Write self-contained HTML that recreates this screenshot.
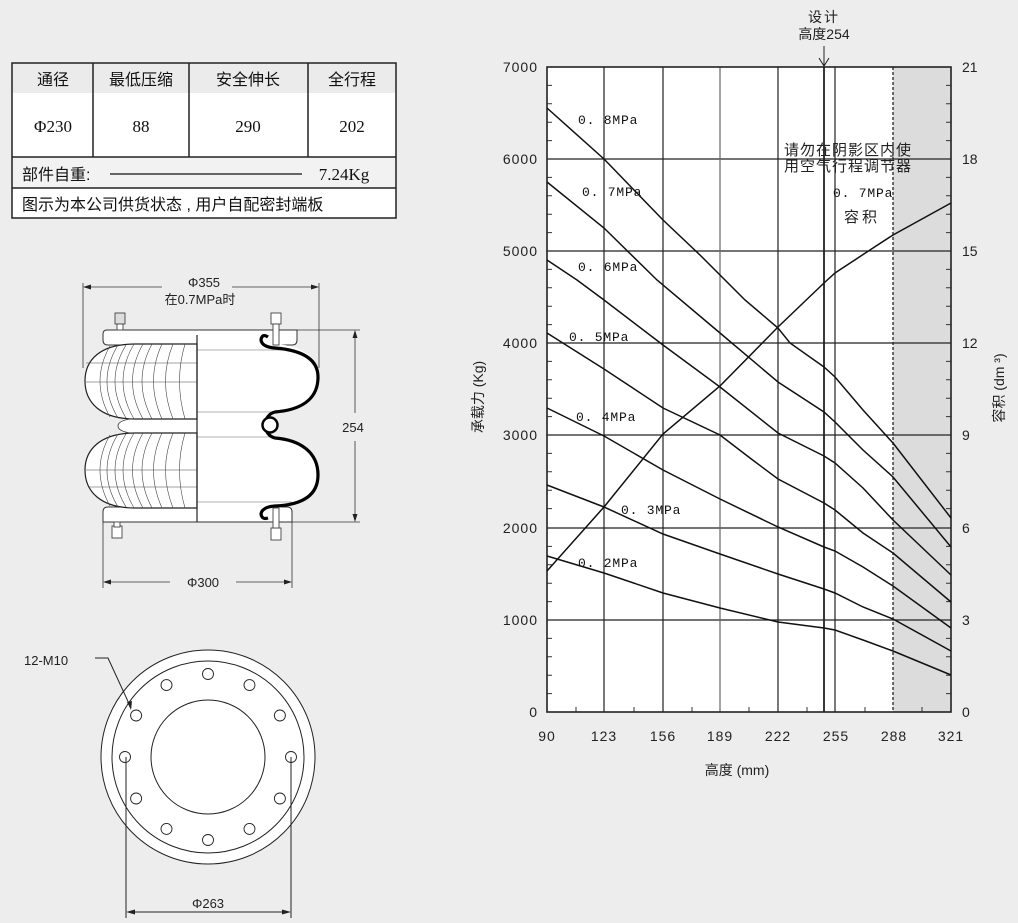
<!DOCTYPE html>
<html><head><meta charset="utf-8"><style>
html,body{margin:0;padding:0;background:#ededed;}
svg{display:block}
text{font-family:"Liberation Sans","Noto Sans CJK SC",sans-serif;}
text.m{font-family:"Liberation Mono","Noto Sans CJK SC",monospace;}
text.s{font-family:"Liberation Serif","Noto Serif CJK SC",serif;}
</style></head><body>
<svg width="1018" height="923" viewBox="0 0 1018 923" xmlns="http://www.w3.org/2000/svg">
<rect width="1018" height="923" fill="#ededed"/>
<rect x="12" y="63" width="384" height="30" fill="#ebebeb"/>
<rect x="12" y="93" width="384" height="64" fill="#fff"/>
<rect x="12" y="157" width="384" height="31" fill="#f2f2f2"/>
<rect x="12" y="188" width="384" height="30" fill="#fff"/>
<g stroke="#222" stroke-width="1.5" fill="none">
<rect x="12" y="63" width="384" height="155"/>
<line x1="12" y1="157" x2="396" y2="157"/>
<line x1="12" y1="188" x2="396" y2="188"/>
<line x1="93" y1="63" x2="93" y2="157"/>
<line x1="189" y1="63" x2="189" y2="157"/>
<line x1="308" y1="63" x2="308" y2="157"/>
</g>
<g font-size="16" fill="#111" text-anchor="middle">
<text x="53" y="85">通径</text><text x="141" y="85">最低压缩</text><text x="248" y="85">安全伸长</text><text x="352" y="85">全行程</text>
</g>
<g font-size="17" fill="#111" text-anchor="middle">
<text class="s" x="53" y="132">Φ230</text><text class="s" x="141" y="132">88</text><text class="s" x="248" y="132">290</text><text class="s" x="352" y="132">202</text>
<text class="s" x="344" y="180">7.24Kg</text>
</g>
<text x="22" y="180" font-size="16" fill="#111">部件自重:</text>
<line x1="110" y1="174" x2="302" y2="174" stroke="#111" stroke-width="1.2"/>
<text x="22" y="210" font-size="16" fill="#111">图示为本公司供货状态 , 用户自配密封端板</text>

<g stroke="#333" stroke-width="0.8" fill="none">
<line x1="83" y1="283" x2="83" y2="368"/>
<line x1="319" y1="283" x2="319" y2="368"/>
<line x1="85" y1="287" x2="162" y2="287"/><line x1="232" y1="287" x2="317" y2="287"/>
<line x1="290" y1="330" x2="360" y2="330"/><line x1="292" y1="522" x2="360" y2="522"/>
<line x1="355" y1="332" x2="355" y2="413"/><line x1="355" y1="441" x2="355" y2="520"/>
<line x1="103" y1="522" x2="103" y2="588"/><line x1="292" y1="522" x2="292" y2="588"/>
<line x1="105" y1="582" x2="170" y2="582"/><line x1="236" y1="582" x2="290" y2="582"/>
</g>
<g fill="#222">
<path d="M83,287 l8,-2.5 v5z"/><path d="M319,287 l-8,-2.5 v5z"/>
<path d="M355,330 l-2.5,8 h5z"/><path d="M355,522 l-2.5,-8 h5z"/>
<path d="M103,582 l8,-2.5 v5z"/><path d="M292,582 l-8,-2.5 v5z"/>
</g>
<text x="204" y="287" font-size="13" text-anchor="middle" fill="#222">Φ355</text>
<text x="200" y="304" font-size="13" text-anchor="middle" fill="#222">在0.7MPa时</text>
<text x="353" y="432" font-size="13" text-anchor="middle" fill="#222">254</text>
<text x="203" y="587" font-size="13" text-anchor="middle" fill="#222">Φ300</text>
<path d="M107,330 H297 V340 Q297,345 292,345 H108 Q103,345 103,340 V334 Q103,330 107,330Z" fill="#fff" stroke="#333" stroke-width="1"/>
<path d="M108,507 H287 Q292,507 292,512 V522 H103 V512 Q103,507 108,507Z" fill="#fff" stroke="#333" stroke-width="1"/>
<path d="M197,344 H270 C300,344 318,355 318,377 C318,400 300,410 275,412 C262,415 262,435 275,438 C300,440 318,452 318,475 C318,497 300,507 270,508 H197Z" fill="#fff"/>
<g stroke="#999" stroke-width="0.8">
<line x1="197" y1="350" x2="290" y2="350"/><line x1="197" y1="412" x2="275" y2="412"/>
<line x1="197" y1="437" x2="275" y2="437"/><line x1="197" y1="502" x2="292" y2="502"/>
</g>
<path d="M197,419 H130 Q118,421 118,426 Q118,431 130,433 H197Z" fill="#fff" stroke="#333" stroke-width="0.8"/>
<path d="M197,344 H135 C100,344 85,360 85,381 C85,402 100,419 135,419 H197Z" fill="#fff" stroke="#222" stroke-width="1.2"/>
<path d="M197,433 H135 C100,433 85,450 85,470 C85,491 100,508 135,508 H197Z" fill="#fff" stroke="#222" stroke-width="1.2"/>
<g stroke="#444" stroke-width="0.6" fill="none">
<path d="M110,346 Q90,381 110,417"/><path d="M118,345 Q96,381 118,418"/><path d="M126,345 Q104,381 126,418"/><path d="M134,344 Q112,381 134,419"/><path d="M143,344 Q122,381 143,419"/><path d="M152,344 Q132,381 152,419"/><path d="M162,344 Q145,381 162,419"/><path d="M173,344 Q158,381 173,419"/><path d="M185,344 Q174,381 185,419"/>
<path d="M110,435 Q90,470 110,506"/><path d="M118,434 Q96,470 118,507"/><path d="M126,434 Q104,470 126,507"/><path d="M134,433 Q112,470 134,508"/><path d="M143,433 Q122,470 143,508"/><path d="M152,433 Q132,470 152,508"/><path d="M162,433 Q145,470 162,508"/><path d="M173,433 Q158,470 173,508"/><path d="M185,433 Q174,470 185,508"/>
<line x1="86" y1="363" x2="197" y2="363"/><line x1="86" y1="382" x2="197" y2="382"/>
<line x1="86" y1="470" x2="197" y2="470"/><line x1="88" y1="487" x2="197" y2="487"/>
</g>
<line x1="197" y1="335" x2="197" y2="522" stroke="#222" stroke-width="1.2"/>
<path d="M268,337 Q262,333 261,340 Q262,347 275,348 C300,350 318,358 318,377 C318,400 300,410 275,412 C262,415 262,435 275,438 C300,440 318,452 318,475 C318,497 300,505 275,506 Q262,507 261,514 Q262,520 268,518" fill="none" stroke="#000" stroke-width="3.2"/>
<circle cx="270" cy="425" r="7.5" fill="#fff" stroke="#000" stroke-width="2.5"/>
<g fill="#fff" stroke="#444" stroke-width="0.9">
<rect x="115" y="313" width="10" height="11" fill="#ddd"/><rect x="117" y="324" width="6" height="6"/>
<rect x="271" y="313" width="10" height="11"/><rect x="273" y="324" width="6" height="21"/>
<rect x="112" y="526" width="10" height="12"/><rect x="114" y="522" width="6" height="5"/>
<rect x="271" y="528" width="10" height="12"/><rect x="273" y="508" width="6" height="20"/>
</g>

<g fill="none" stroke="#222" stroke-width="1">
<circle cx="208" cy="757" r="107" fill="#fff"/>
<circle cx="208" cy="757" r="96"/>
<circle cx="208" cy="757" r="57"/>
<g stroke-width="0.9">
<circle cx="208" cy="674" r="5.5"/><circle cx="249.5" cy="685.1" r="5.5"/><circle cx="279.9" cy="715.5" r="5.5"/><circle cx="291" cy="757" r="5.5"/><circle cx="279.9" cy="798.5" r="5.5"/><circle cx="249.5" cy="828.9" r="5.5"/><circle cx="208" cy="840" r="5.5"/><circle cx="166.5" cy="828.9" r="5.5"/><circle cx="136.1" cy="798.5" r="5.5"/><circle cx="125" cy="757" r="5.5"/><circle cx="136.1" cy="715.5" r="5.5"/><circle cx="166.5" cy="685.1" r="5.5"/>
</g>
<polyline points="95,658 108,658 131,708"/>
<line x1="126" y1="757" x2="126" y2="918"/><line x1="291" y1="757" x2="291" y2="918"/>
<line x1="128" y1="912" x2="289" y2="912"/>
</g>
<path d="M131,710 l-4,-8 l5,-1z" fill="#222"/>
<path d="M126,912 l9,-2.5 v5z M291,912 l-9,-2.5 v5z" fill="#222"/>
<text x="24" y="665" font-size="13" fill="#222">12-M10</text>
<text x="208" y="908" font-size="13" text-anchor="middle" fill="#222">Φ263</text>

<rect x="547" y="67" width="404" height="645" fill="#fff"/>
<rect x="893" y="67" width="58" height="645" fill="#dcdcdc"/>
<g stroke="#222" stroke-width="1.2">
<line x1="547" y1="159" x2="951" y2="159"/><line x1="547" y1="251" x2="951" y2="251"/><line x1="547" y1="343" x2="951" y2="343"/><line x1="547" y1="435" x2="951" y2="435"/><line x1="547" y1="528" x2="951" y2="528"/><line x1="547" y1="620" x2="951" y2="620"/>
<line x1="604" y1="67" x2="604" y2="712"/><line x1="663" y1="67" x2="663" y2="712"/><line x1="720" y1="67" x2="720" y2="712" stroke="#666"/><line x1="778" y1="67" x2="778" y2="712"/><line x1="824" y1="67" x2="824" y2="712" stroke-width="1.8"/><line x1="835" y1="67" x2="835" y2="712"/>
</g>
<line x1="893" y1="67" x2="893" y2="712" stroke="#222" stroke-width="1.3" stroke-dasharray="3,2"/>
<g stroke="#333" stroke-width="1">
<path d="M547,85.4h5M547,103.8h5M547,122.2h5M547,140.6h5M547,177.4h5M547,195.8h5M547,214.2h5M547,232.6h5M547,269.4h5M547,287.8h5M547,306.2h5M547,324.6h5M547,361.4h5M547,379.8h5M547,398.2h5M547,416.6h5M547,453.4h5M547,471.8h5M547,490.2h5M547,508.6h5M547,546.4h5M547,564.8h5M547,583.2h5M547,601.6h5M547,638.4h5M547,656.8h5M547,675.2h5M547,693.6h5"/>
<path d="M951,85.4h-5M951,103.8h-5M951,122.2h-5M951,140.6h-5M951,177.4h-5M951,195.8h-5M951,214.2h-5M951,232.6h-5M951,269.4h-5M951,287.8h-5M951,306.2h-5M951,324.6h-5M951,361.4h-5M951,379.8h-5M951,398.2h-5M951,416.6h-5M951,453.4h-5M951,471.8h-5M951,490.2h-5M951,508.6h-5M951,546.4h-5M951,564.8h-5M951,583.2h-5M951,601.6h-5M951,638.4h-5M951,656.8h-5M951,675.2h-5M951,693.6h-5"/>
<path d="M576,712v-5M634,712v-5M692,712v-5M749,712v-5M807,712v-5M865,712v-5M922,712v-5"/>
</g>
<rect x="547" y="67" width="404" height="645" fill="none" stroke="#222" stroke-width="1.6"/>
<g fill="none" stroke="#111" stroke-width="1.5">
<polyline points="547,108 604,159 663,220 700,255 745,300 778,328 790,343 824,367 835,377 863,410 893,443 951,518"/>
<polyline points="547,182 604,228 657,280 720,333 778,382 824,412 835,422 863,450 893,477 951,547"/>
<polyline points="547,260 577,280 604,300 663,345 720,387 778,433 824,456 835,463 863,488 893,520 951,575"/>
<polyline points="547,333 604,369 663,408 720,435 750,458 778,479 824,503 835,510 863,533 893,553 951,602"/>
<polyline points="547,408 604,436 663,470 720,499 778,527 824,547 835,551 863,567 893,586 951,628"/>
<polyline points="547,485 604,507 663,534 720,554 778,574 824,589 835,593 863,607 893,619 951,651"/>
<polyline points="547,556 604,573 663,593 720,608 778,622 824,628 835,630 863,640 893,651 951,675"/>
<polyline points="547,571 604,507 663,434 720,386 778,327 824,283 835,273 873,248 893,235 951,203"/>
</g>
<g font-size="13" fill="#111" letter-spacing="0.8">
<text class="m" x="578" y="124">0. 8MPa</text><text class="m" x="582" y="196">0. 7MPa</text><text class="m" x="578" y="271">0. 6MPa</text><text class="m" x="569" y="341">0. 5MPa</text><text class="m" x="576" y="421">0. 4MPa</text><text class="m" x="621" y="514">0. 3MPa</text><text class="m" x="578" y="567">0. 2MPa</text>
<text class="m" x="833" y="197">0. 7MPa</text>
</g>
<g font-size="15" fill="#222" text-anchor="middle">
<text x="848" y="155" letter-spacing="1">请勿在阴影区内使</text>
<text x="848" y="171" letter-spacing="1">用空气行程调节器</text>
<text x="862" y="222" letter-spacing="3">容积</text>
<text x="824" y="22" font-size="14" letter-spacing="2">设计</text>
<text x="824" y="39" font-size="14">高度254</text>
</g>
<line x1="824" y1="46" x2="824" y2="67" stroke="#222" stroke-width="1"/>
<path d="M819,58 L824,66 L829,58" fill="none" stroke="#222" stroke-width="1"/>
<g font-size="14" fill="#222" text-anchor="end" letter-spacing="1">
<text x="538" y="72">7000</text><text x="538" y="164">6000</text><text x="538" y="256">5000</text><text x="538" y="348">4000</text><text x="538" y="440">3000</text><text x="538" y="533">2000</text><text x="538" y="625">1000</text><text x="538" y="717">0</text>
</g>
<g font-size="14" fill="#222">
<text x="962" y="72">21</text><text x="962" y="164">18</text><text x="962" y="256">15</text><text x="962" y="348">12</text><text x="962" y="440">9</text><text x="962" y="533">6</text><text x="962" y="625">3</text><text x="962" y="717">0</text>
</g>
<g font-size="14" fill="#222" text-anchor="middle" letter-spacing="1">
<text x="547" y="741">90</text><text x="604" y="741">123</text><text x="663" y="741">156</text><text x="720" y="741">189</text><text x="778" y="741">222</text><text x="836" y="741">255</text><text x="894" y="741">288</text><text x="951" y="741">321</text>
</g>
<text x="737" y="775" font-size="14" fill="#222" text-anchor="middle">高度 (mm)</text>
<text transform="translate(483,397) rotate(-90)" font-size="14" fill="#222" text-anchor="middle">承载力 (Kg)</text>
<text transform="translate(1004,388) rotate(-90)" font-size="14" fill="#222" text-anchor="middle">容积 (dm ³)</text>
</svg>
</body></html>
